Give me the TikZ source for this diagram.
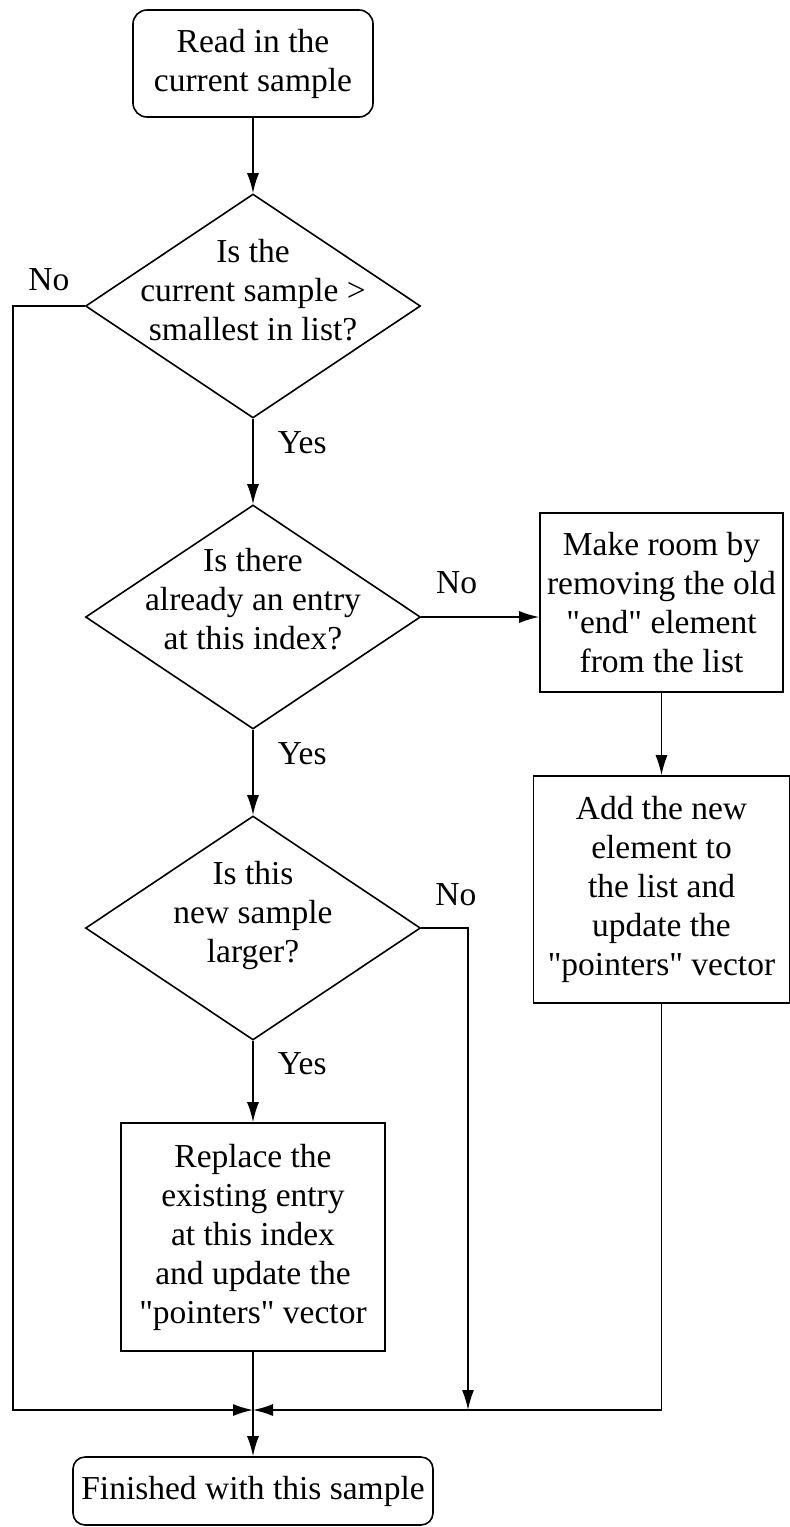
\documentclass[tikz,border=0pt]{standalone}
\usepackage{fontspec}
\setmainfont{Liberation Serif}[Ligatures=TeXOff]
\usetikzlibrary{shapes.geometric,arrows.meta,positioning}

\tikzset{
	startstop/.style = {draw, rounded corners=7pt, align=center, inner sep=2pt},
	process/.style = {draw, rectangle, align=center, inner sep=2pt},
	decision/.style = {draw, diamond, inner sep=0pt, minimum width=167.5pt, minimum height=112pt},
	question/.style = {align=center, inner sep=0pt},
	answer/.style = {inner sep=0pt},
	flow/.style = {-{Latex[length=10pt,width=6pt]}}
}

\begin{document}
\begin{tikzpicture} [x=0.5pt, y=-0.5pt, line width=0.8pt, font=\fontsize{16.75}{19.5}\selectfont]
	\useasboundingbox (0,0) rectangle (790,1527);
	% boxes and questions
	\node [startstop, minimum width=120pt, minimum height=53.5pt] (read) at (253,63.5) {Read in the\\current sample};
	\node [decision] (small) at (253,306) {};
	\node [question] (smalltext) at (253,290) {Is the\\current sample >\\smallest in list?};
	\node [decision] (entry) at (253,617) {};
	\node [question] (entrytext) at (253,599) {Is there\\already an entry\\at this index?};
	\node [decision] (larger) at (253,928) {};
	\node [question] (largertext) at (253,915) {Is this\\new sample\\larger?};
	\node [process, minimum width=121.5pt, minimum height=89.5pt] (room) at (661.5,602.5) {Make room by\\removing the old\\"end" element\\from the list};
	\node [process, minimum width=128pt, minimum height=113.5pt] (add) at (661.5,889.5) {Add the new\\element to\\the list and\\update the\\"pointers" vector};
	\node [process, minimum width=132pt, minimum height=114pt] (replace) at (253,1237) {Replace the\\existing entry\\at this index\\and update the\\"pointers" vector};
	\node [startstop, rounded corners=6pt, minimum width=180pt, minimum height=34pt] (done) at (253,1491) {Finished with this sample};
	\coordinate (merge) at (253,1410);
	\coordinate (leftcorner) at (13,1410);
	\coordinate (nodrop) at (468,1410);
	% connectors
	\draw [flow] (read) -- (small);
	\draw [flow] (small) -- node [answer, pos=0.28, right=12pt] (yes1) {Yes} (entry);
	\draw [flow] (entry) -- node [answer, pos=0.28, right=12pt] (yes2) {Yes} (larger);
	\draw [flow] (larger) -- node [answer, pos=0.28, right=12pt] (yes3) {Yes} (replace);
	\draw [flow] (replace) -- (done);
	\draw [flow] (entry.east) -- node [answer, pos=0.3, above=11pt] (no2) {No} (entry.east -| room.west);
	\draw [flow] (room) -- (add);
	\draw [flow] (small.west) -- node [answer, pos=0.5, above=7pt] (no1) {No} (small.west -| leftcorner) -- (leftcorner) -- (merge);
	\draw [flow] (larger.east) -- node [answer, pos=0.74, above=10.5pt] (no3) {No} (larger.east -| nodrop) -- (nodrop);
	\draw [flow] (add.south) -- (add.south |- merge) -- (merge);
\end{tikzpicture}
\end{document}
